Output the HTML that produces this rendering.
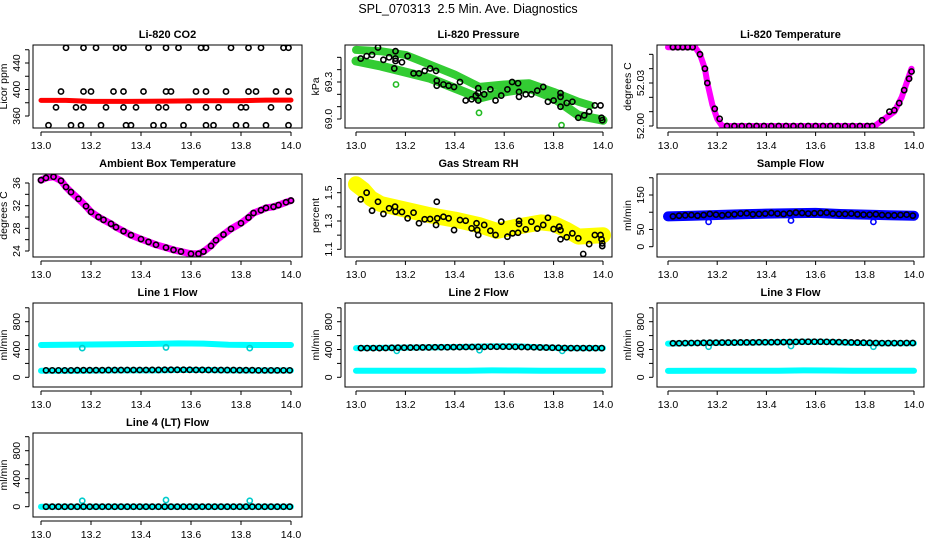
<!DOCTYPE html>
<html><head><meta charset="utf-8"><style>
html,body{margin:0;padding:0;background:#fff;}
svg{display:block;font-family:"Liberation Sans",Arial,sans-serif;}
</style></head><body>
<svg id="c" width="936" height="540" viewBox="0 0 936 540" xmlns="http://www.w3.org/2000/svg">
<text x="468" y="13" text-anchor="middle" font-size="12.5" xml:space="preserve" style="white-space:pre">SPL_070313  2.5 Min. Ave. Diagnostics</text>
<defs id="defs"></defs>
</svg>
<script>
// ---------- data ----------
const xTicks = [13.0, 13.2, 13.4, 13.6, 13.8, 14.0];
const xTickLabels = ["13.0","13.2","13.4","13.6","13.8","14.0"];

// CO2
const co2BandX = [13.0, 13.1, 13.2, 13.35, 13.5, 13.65, 13.8, 13.9, 14.0];
const co2BandY = [383.5, 383.5, 382, 382, 382.5, 383, 383, 384, 384];
const co2PtsX = [13.10,13.17,13.22,13.30,13.33,13.43,13.50,13.55,13.64,13.66,13.76,13.83,13.88,13.97,13.99,
 13.08,13.17,13.20,13.29,13.33,13.41,13.50,13.52,13.62,13.66,13.74,13.83,13.86,13.94,13.99,
 13.06,13.14,13.17,13.26,13.33,13.38,13.47,13.50,13.59,13.66,13.71,13.80,13.82,13.92,13.99,
 13.03,13.12,13.16,13.24,13.34,13.36,13.45,13.49,13.57,13.66,13.69,13.78,13.82,13.90,13.99];
const co2PtsY = [463,463,463,463,463,463,463,463,463,463,463,463,463,463,463,
 397,397,397,397,397,397,397,397,397,397,397,397,397,397,397,
 373,373,373,373,373,373,373,373,373,373,373,373,373,373,373,
 346,346,346,346,346,346,346,346,346,346,346,346,346,346,346];

// Pressure
const presUpX = [13.0,13.1,13.2,13.3,13.4,13.5,13.6,13.7,13.8,13.9,13.95];
const presUpY = [69.56,69.55,69.52,69.44,69.36,69.26,69.28,69.29,69.22,69.14,69.11];
const presLoX = [13.0,13.1,13.2,13.3,13.4,13.5,13.6,13.7,13.8,13.9,14.0];
const presLoY = [69.47,69.43,69.38,69.33,69.25,69.17,69.22,69.25,69.17,69.03,68.99];
const presPtsX = [13.019,13.043,13.065,13.089,13.111,13.134,13.160,13.160,13.160,13.186,13.209,13.155,13.233,13.255,13.278,13.300,13.324,13.327,13.327,13.354,13.375,13.397,13.421,13.444,13.468,13.485,13.495,13.495,13.495,13.519,13.544,13.565,13.588,13.613,13.632,13.656,13.660,13.660,13.687,13.710,13.734,13.758,13.777,13.800,13.828,13.828,13.828,13.853,13.876,13.900,13.924,13.944,13.967,13.990,13.994,13.997];
const presPtsY = [69.49,69.51,69.52,69.58,69.48,69.50,69.55,69.49,69.47,69.46,69.51,69.41,69.37,69.37,69.39,69.41,69.39,69.31,69.27,69.28,69.27,69.26,69.30,69.15,69.16,69.19,69.25,69.21,69.15,69.20,69.24,69.15,69.19,69.24,69.30,69.29,69.22,69.18,69.20,69.20,69.23,69.26,69.14,69.15,69.21,69.18,69.10,69.13,69.14,69.01,69.03,69.06,69.11,69.11,69.01,68.99];
const presOutX = [13.162,13.498,13.832];
const presOutY = [69.28,69.05,68.95];

// Li-820 temperature
const tempBandX = [13.0,13.11,13.13,13.15,13.16,13.18,13.2,13.22,13.84,13.88,13.92,13.95,13.97,13.99];
const tempBandY = [52.055,52.055,52.050,52.040,52.030,52.015,52.005,52.0,52.0,52.005,52.010,52.020,52.030,52.040];
const tempPtsX = [13.02,13.04,13.06,13.08,13.10,13.13,13.15,13.16,13.19,13.21,13.24,13.27,13.30,13.33,13.36,13.39,13.42,13.45,13.48,13.51,13.54,13.57,13.60,13.63,13.66,13.69,13.72,13.75,13.78,13.81,13.83,13.87,13.90,13.92,13.94,13.96,13.98,13.99];
const tempPtsY = [52.055,52.055,52.055,52.055,52.055,52.050,52.040,52.030,52.012,52.005,52.0,52.0,52.0,52.0,52.0,52.0,52.0,52.0,52.0,52.0,52.0,52.0,52.0,52.0,52.0,52.0,52.0,52.0,52.0,52.0,52.0,52.004,52.010,52.011,52.016,52.025,52.033,52.038];

// Ambient box temperature
const ambX = [13.0,13.02,13.05,13.08,13.1,13.12,13.15,13.18,13.2,13.23,13.25,13.28,13.3,13.33,13.36,13.4,13.43,13.46,13.5,13.53,13.56,13.6,13.63,13.65,13.68,13.7,13.73,13.76,13.8,13.83,13.85,13.88,13.9,13.93,13.95,13.98,14.0];
const ambY = [36.5,36.9,37.1,36.4,35.3,34.4,33.2,31.9,30.9,30.0,29.5,28.8,28.2,27.5,26.8,26.1,25.6,25.1,24.6,24.2,23.9,23.5,23.5,23.9,24.9,25.9,26.9,27.9,28.9,29.9,30.7,31.2,31.6,31.8,32.1,32.6,32.9];

// Gas stream RH
const rhBandX = [13.0,13.03,13.06,13.1,13.2,13.3,13.4,13.5,13.57,13.65,13.75,13.8,13.85,13.9,14.0];
const rhBandY = [1.56,1.52,1.46,1.42,1.38,1.34,1.31,1.27,1.23,1.26,1.29,1.28,1.24,1.19,1.20];
const rhPtsX = [13.019,13.043,13.065,13.089,13.111,13.134,13.158,13.160,13.186,13.209,13.233,13.255,13.278,13.300,13.324,13.327,13.329,13.354,13.375,13.397,13.421,13.444,13.468,13.488,13.491,13.495,13.519,13.544,13.565,13.588,13.613,13.634,13.656,13.660,13.660,13.687,13.710,13.734,13.758,13.777,13.800,13.823,13.828,13.828,13.853,13.876,13.900,13.920,13.944,13.967,13.990,13.994,13.997,13.997];
const rhPtsY = [1.453,1.500,1.373,1.436,1.350,1.390,1.401,1.366,1.364,1.319,1.359,1.284,1.312,1.314,1.272,1.436,1.319,1.330,1.319,1.236,1.307,1.302,1.248,1.284,1.236,1.201,1.272,1.231,1.201,1.295,1.189,1.213,1.217,1.279,1.302,1.241,1.295,1.246,1.272,1.323,1.243,1.260,1.171,1.236,1.185,1.213,1.178,1.067,1.137,1.201,1.201,1.171,1.123,1.142];

// Sample flow
const sfBandX = [13.0,13.1,13.2,13.3,13.4,13.5,13.6,13.7,13.8,13.9,14.0];
const sfBandY = [88,90,92,94,96,97,98,95,93,91,90];
const sfOutX = [13.165,13.5,13.835];
const sfOutY = [72,76,72];

// Shared observation hours for the flow panels
const flowX = [13.02,13.045,13.07,13.095,13.12,13.145,13.17,13.195,13.22,13.245,13.27,13.295,13.32,13.345,13.37,13.395,13.42,13.445,13.47,13.495,13.52,13.545,13.57,13.595,13.62,13.645,13.67,13.695,13.72,13.745,13.77,13.795,13.82,13.845,13.87,13.895,13.92,13.945,13.97,13.995];
const sfBlack = [88,90,91,92,90,92,95,93,91,93,94,96,97,94,95,96,98,96,95,97,99,98,96,97,98,99,96,95,95,96,94,93,93,94,92,91,91,92,93,90];
const line1Black = [100,100,100,100,100,102,102,102,102,102,104,104,104,105,105,105,105,106,106,108,108,108,108,108,106,106,105,105,104,104,104,102,102,102,100,100,100,100,100,100];
const line2Black = [420,420,420,420,422,424,426,426,428,428,430,430,432,432,432,434,434,436,436,438,438,440,440,440,440,438,436,434,432,430,428,426,424,422,420,420,420,420,420,420];
const line3Black = [490,490,492,494,494,496,498,498,500,500,500,502,502,502,504,504,504,506,506,508,510,512,512,512,512,510,508,506,504,502,500,498,496,494,492,492,492,492,494,494];
const line4Black = [0,0,0,0,0,0,0,0,0,0,0,0,0,0,0,0,0,0,0,0,0,0,0,0,0,0,0,0,0,0,0,0,0,0,0,0,0,0,0,0];
const line1CyanHiX = [13.0,13.15,13.3,13.45,13.55,13.65,13.75,13.85,14.0];
const line1CyanHiY = [465,470,475,480,488,485,468,465,465];
const line1CyanLoY = [95,95,100,100,105,105,100,98,98];
const line2CyanHiY = [420,425,430,438,445,445,430,420,420];
const line2CyanLoY = [95,95,95,95,100,98,95,95,95];
const line3CyanHiY = [485,495,500,505,512,510,495,490,490];
const line3CyanLoY = [92,95,95,95,100,98,95,95,95];
const line4CyanY = [0,0,0,0,0,0,0,0,0];
const flowOutX = [13.165,13.5,13.835];
const line1OutY = [420,430,420];
const line2OutY = [380,390,380];
const line3OutY = [440,450,440];
const line4OutY = [85,95,85];

// ---------- drawing ----------
const NS = "http://www.w3.org/2000/svg";
const svg = document.getElementById("c");
const defs = document.getElementById("defs");
let clipN = 0;
function mk(tag, attrs, parent){
  const e = document.createElementNS(NS, tag);
  for (const k in attrs) e.setAttribute(k, attrs[k]);
  (parent||svg).appendChild(e);
  return e;
}
const cols = [
  {bx0:33, bx1:302, x0:41, x1:291},
  {bx0:345, bx1:612, x0:356, x1:603},
  {bx0:657, bx1:924, x0:668, x1:914}
];
const rows = [{by0:45,by1:128},{by0:174,by1:257},{by0:303,by1:387},{by0:433,by1:517}];

function panel(name, title, ylab, r, c, yA, yApx, yB, yBpx, yTicks, yLabels){
  const g = mk("g", {});
  
  
  const C = cols[c], R = rows[r];
  const id = "clip" + (clipN++);
  const cp = mk("clipPath", {id}, defs);
  mk("rect", {x:C.bx0+0.5, y:R.by0+0.5, width:C.bx1-C.bx0-1, height:R.by1-R.by0-1}, cp);
  const inner = mk("g", {"clip-path":`url(#${id})`}, g);
  
  
  const P = {g: inner, C, R,
    sx: v => C.x0 + (v - 13) * (C.x1 - C.x0),
    sy: v => yApx + (v - yA) * (yBpx - yApx) / (yB - yA)};
  const box = mk("rect", {x:C.bx0, y:R.by0, width:C.bx1-C.bx0, height:R.by1-R.by0, fill:"none", stroke:"#000", "stroke-width":1}, g);
  
  
  const t = mk("text", {x:(C.bx0+C.bx1)/2, y:R.by0-7, "text-anchor":"middle", "font-size":11, "font-weight":"bold"}, g);
  t.textContent = title;
  
  
  const xa = mk("g", {}, g);
  
  
  const yb = R.by1 + 4;
  mk("line", {x1:P.sx(xTicks[0]), x2:P.sx(xTicks[xTicks.length-1]), y1:yb, y2:yb, stroke:"#000"}, xa);
  xTicks.forEach((v,i) => {
    mk("line", {x1:P.sx(v), x2:P.sx(v), y1:yb, y2:yb+4, stroke:"#000"}, xa);
    const tl = mk("text", {x:P.sx(v), y:yb+17, "text-anchor":"middle", "font-size":10.5}, xa);
    tl.textContent = xTickLabels[i];
    
    
  });
  const ya = mk("g", {}, g);
  
  
  const xl = C.bx0 - 4;
  mk("line", {x1:xl, x2:xl, y1:P.sy(yTicks[0]), y2:P.sy(yTicks[yTicks.length-1]), stroke:"#000"}, ya);
  yTicks.forEach((v,i) => {
    mk("line", {x1:xl-4, x2:xl, y1:P.sy(v), y2:P.sy(v), stroke:"#000"}, ya);
    if (yLabels[i]) {
      const yy = P.sy(v);
      const tl = mk("text", {x:xl-9, y:yy, "text-anchor":"middle", "font-size":10.5, transform:`rotate(-90 ${xl-9} ${yy})`}, ya);
      tl.textContent = yLabels[i];
      
      
    }
  });
  const ym = (R.by0 + R.by1)/2, yx = C.bx0 - 26;
  const yt = mk("text", {x:yx, y:ym, "text-anchor":"middle", "font-size":10.5, transform:`rotate(-90 ${yx} ${ym})`}, g);
  yt.textContent = ylab;
  
  
  return P;
}
function band(P, xs, ys, color, w, nm){
  const d = xs.map((x,i) => (i?"L":"M") + P.sx(x).toFixed(1) + "," + P.sy(ys[i]).toFixed(1)).join(" ");
  const p = mk("path", {d, fill:"none", stroke:color, "stroke-width":w, "stroke-linecap":"round", "stroke-linejoin":"round"}, P.g);
  
  
}
function pts(P, xs, ys, color, nm, r){
  const gg = mk("g", {}, P.g);
  
  
  xs.forEach((x,i) => {
    const ci = mk("circle", {cx:P.sx(x), cy:P.sy(ys[i]), r:r||2.6, fill:"none", stroke:color, "stroke-width":1.6}, gg);
    
    
  });
}

let P = panel("co2-panel","Li-820 CO2","Licor ppm",0,0,360,116,440,63,[360,380,400,420,440,460],["360","","400","","440",""]);
band(P, co2BandX, co2BandY, "#ff0000", 5, "co2-band");
pts(P, co2PtsX, co2PtsY, "#000", "co2-points");

P = panel("pressure-panel","Li-820 Pressure","kPa",0,1,69.0,119,69.3,82,[69.0,69.1,69.2,69.3,69.4,69.5],["69.0","","","69.3","",""]);
band(P, presUpX, presUpY, "#33cc33", 8, "pressure-band-upper");
band(P, presLoX, presLoY, "#33cc33", 9, "pressure-band-lower");
pts(P, presOutX, presOutY, "#22bb22", "pressure-outliers");
pts(P, presPtsX, presPtsY, "#000", "pressure-points");

P = panel("temperature-panel","Li-820 Temperature","degrees C",0,2,52.0,126,52.03,83,[52.0,52.01,52.02,52.03,52.04,52.05],["52.00","","","52.03","",""]);
band(P, tempBandX, tempBandY, "#ff00ff", 6, "temperature-band");
pts(P, tempPtsX, tempPtsY, "#000", "temperature-points");

P = panel("ambient-panel","Ambient Box Temperature","degrees C",1,0,24,251,36,183,[24,26,28,30,32,34,36],["24","","28","","32","","36"]);
band(P, ambX, ambY, "#ff00ff", 7, "ambient-band");
pts(P, ambX, ambY, "#000", "ambient-points");

P = panel("rh-panel","Gas Stream RH","percent",1,1,1.1,249.3,1.5,192.7,[1.1,1.2,1.3,1.4,1.5,1.6],["1.1","","1.3","","1.5",""]);
band(P, rhBandX, rhBandY, "#ffff00", 16, "rh-band");
pts(P, rhPtsX, rhPtsY, "#000", "rh-points");

P = panel("sample-flow-panel","Sample Flow","ml/min",1,2,0,246.7,150,195,[0,50,100,150,200],["0","50","","150",""]);
band(P, sfBandX, sfBandY, "#0000ff", 10, "sample-flow-band");
pts(P, sfOutX, sfOutY, "#0000ff", "sample-flow-outliers");
pts(P, flowX, sfBlack, "#000", "sample-flow-points");

const fT = [0,200,400,600,800,1000], fL = ["0","","400","","800",""];
P = panel("line1-panel","Line 1 Flow","ml/min",2,0,0,377.3,800,321.7,fT,fL);
band(P, line1CyanHiX, line1CyanHiY, "#00ffff", 6, "line1-cyan-upper");
band(P, line1CyanHiX, line1CyanLoY, "#00ffff", 6, "line1-cyan-lower");
pts(P, flowOutX, line1OutY, "#00cccc", "line1-outliers");
pts(P, flowX, line1Black, "#000", "line1-points");

P = panel("line2-panel","Line 2 Flow","ml/min",2,1,0,377.3,800,321.7,fT,fL);
band(P, line1CyanHiX, line2CyanHiY, "#00ffff", 6, "line2-cyan-upper");
band(P, line1CyanHiX, line2CyanLoY, "#00ffff", 6, "line2-cyan-lower");
pts(P, flowOutX, line2OutY, "#00cccc", "line2-outliers");
pts(P, flowX, line2Black, "#000", "line2-points");

P = panel("line3-panel","Line 3 Flow","ml/min",2,2,0,377.3,800,321.7,fT,fL);
band(P, line1CyanHiX, line3CyanHiY, "#00ffff", 6, "line3-cyan-upper");
band(P, line1CyanHiX, line3CyanLoY, "#00ffff", 6, "line3-cyan-lower");
pts(P, flowOutX, line3OutY, "#00cccc", "line3-outliers");
pts(P, flowX, line3Black, "#000", "line3-points");

P = panel("line4-panel","Line 4 (LT) Flow","ml/min",3,0,0,506.7,800,450.7,fT,fL);
band(P, line1CyanHiX, line4CyanY, "#00ffff", 6, "line4-cyan");
pts(P, flowOutX, line4OutY, "#00cccc", "line4-outliers");
pts(P, flowX, line4Black, "#000", "line4-points");
</script>
</body></html>
